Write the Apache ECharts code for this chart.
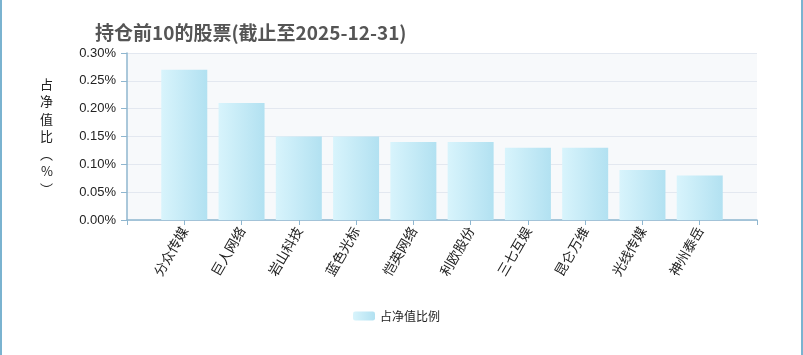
<!DOCTYPE html>
<html>
<head>
<meta charset="utf-8">
<script src="https://cdn.jsdelivr.net/npm/echarts@6/dist/echarts.min.js"></script>
<style>
    html, body { margin: 0; padding: 0; background: #fff; }
    #chart { width: 803px; height: 355px; }
</style>
</head>
<body>
<div id="chart"></div>
<script>
// 股票名称（首尾留空位，让柱子落在刻度上）
var stockNames = ['分众传媒', '巨人网络', '岩山科技', '蓝色光标', '恺英网络', '利欧股份', '三七互娱', '昆仑万维', '光线传媒', '神州泰岳'];
// 占净值比例（%）
var ratioValues = [0.27, 0.21, 0.15, 0.15, 0.14, 0.14, 0.13, 0.13, 0.09, 0.08];
var yTicks = [0, 0.05, 0.10, 0.15, 0.20, 0.25, 0.30];

var categories = [''].concat(stockNames).concat(['']);
var seriesData = [null].concat(ratioValues).concat([null]);

var barColor = new echarts.graphic.LinearGradient(0, 0, 1, 0, [
    { offset: 0, color: '#d8f4fc' },
    { offset: 1, color: '#b2e1f1' }
]);

var myChart = echarts.init(document.getElementById('chart'));

var option = {
    animation: false,
    title: {
        text: '持仓前10的股票(截止至2025-12-31)',
        left: 90,
        top: 18,
        textStyle: {
            fontFamily: 'Noto Sans CJK SC',
            fontSize: 19,
            fontWeight: 'bold',
            color: '#555'
        }
    },
    graphic: [
        { type: 'rect', shape: { x: 0, y: 0, width: 2, height: 355 }, style: { fill: '#7ab3d0' } },
        { type: 'rect', shape: { x: 801, y: 0, width: 2, height: 355 }, style: { fill: '#7ab3d0' } }
    ],
    legend: {
        bottom: 28,
        left: 348,
        itemWidth: 22,
        itemHeight: 9,
        itemGap: 5,
        textStyle: { fontFamily: 'Noto Sans CJK SC', fontSize: 12, color: '#222' },
        data: ['占净值比例']
    },
    grid: {
        left: 127,
        right: 46,
        top: 53,
        bottom: 135,
        show: true,
        backgroundColor: '#f7f9fb',
        borderWidth: 0
    },
    xAxis: {
        type: 'category',
        data: categories,
        boundaryGap: false,
        axisLine: { lineStyle: { color: '#8fb6cf', width: 1.5 } },
        axisTick: { show: true, length: 5, lineStyle: { color: '#8fb6cf' } },
        axisLabel: {
            rotate: 60,
            interval: 0,
            margin: 8,
            fontFamily: 'Noto Sans CJK SC',
            fontSize: 13.5,
            color: '#222'
        },
        splitLine: { show: false }
    },
    yAxis: {
        type: 'value',
        min: 0,
        max: yTicks[yTicks.length - 1],
        interval: 0.05,
        name: '占\n净\n值\n比\n︵\n%\n︶',
        nameLocation: 'middle',
        nameRotate: 0,
        nameGap: 74,
        nameTextStyle: {
            fontFamily: 'Noto Sans CJK SC',
            fontSize: 13,
            lineHeight: 17.5,
            color: '#222'
        },
        axisLine: { show: true, lineStyle: { color: '#8fb6cf', width: 1.5 } },
        axisTick: { show: true, length: 6, lineStyle: { color: '#8fb6cf' } },
        axisLabel: {
            margin: 11,
            fontFamily: 'Liberation Sans',
            fontSize: 13,
            color: '#222',
            formatter: function (v) { return v.toFixed(2) + '%'; }
        },
        splitLine: { lineStyle: { color: '#e3e8f0' } }
    },
    series: [{
        name: '占净值比例',
        type: 'bar',
        barWidth: 46,
        data: seriesData,
        itemStyle: { color: barColor }
    }]
};

myChart.setOption(option);
</script>
</body>
</html>
